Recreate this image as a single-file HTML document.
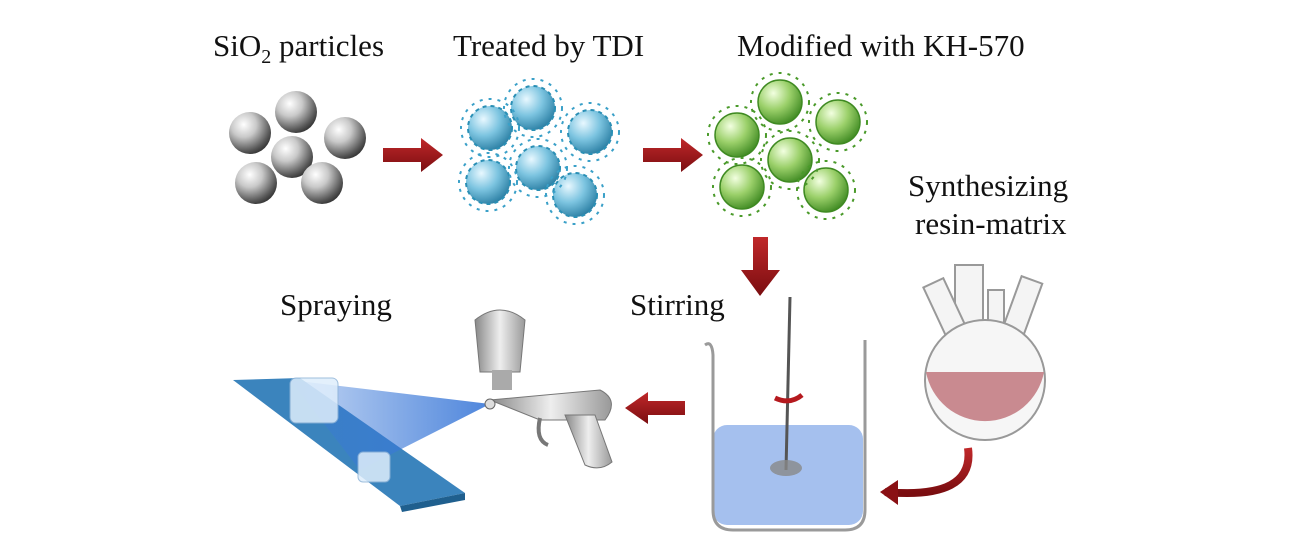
<!DOCTYPE html>
<html><head><meta charset="utf-8"><style>
html,body{margin:0;padding:0;background:#fff;}
svg{display:block;}
text{font-family:"Liberation Serif",serif;font-size:31px;fill:#111;}
</style></head><body>
<svg width="1291" height="556" viewBox="0 0 1291 556" xmlns="http://www.w3.org/2000/svg">
<defs>
<radialGradient id="silver" cx="35%" cy="30%" r="75%"><stop offset="0" stop-color="#fff"/><stop offset="0.4" stop-color="#c9c9c9"/><stop offset="0.85" stop-color="#555"/><stop offset="1" stop-color="#333"/></radialGradient>
<radialGradient id="blue" cx="35%" cy="30%" r="75%"><stop offset="0" stop-color="#e8f8ff"/><stop offset="0.5" stop-color="#7cc4e0"/><stop offset="1" stop-color="#2a7ea3"/></radialGradient>
<radialGradient id="green" cx="35%" cy="30%" r="75%"><stop offset="0" stop-color="#f2ffe0"/><stop offset="0.5" stop-color="#9bd06a"/><stop offset="1" stop-color="#3f8a22"/></radialGradient>
<linearGradient id="arrow" x1="0" y1="0" x2="0" y2="1"><stop offset="0" stop-color="#c0282a"/><stop offset="1" stop-color="#7a0d10"/></linearGradient>
<linearGradient id="cone" x1="1" y1="0" x2="0" y2="0"><stop offset="0" stop-color="#3a78d8" stop-opacity="0.9"/><stop offset="1" stop-color="#3a78d8" stop-opacity="0.3"/></linearGradient>
<linearGradient id="gun" x1="0" y1="0" x2="1" y2="0"><stop offset="0" stop-color="#888"/><stop offset="0.5" stop-color="#eee"/><stop offset="1" stop-color="#999"/></linearGradient>
<g id="arr"><polygon points="0,-7 38,-7 38,-17 60,0 38,17 38,7 0,7" fill="url(#arrow)"/></g>
</defs>

<text x="213" y="56">SiO<tspan font-size="20" dy="7">2</tspan><tspan dy="-7"> particles</tspan></text>
<text x="453" y="56">Treated by TDI</text>
<text x="737" y="56">Modified with KH-570</text>
<text x="908" y="196">Synthesizing</text>
<text x="915" y="234">resin-matrix</text>
<text x="630" y="315">Stirring</text>
<text x="280" y="315">Spraying</text>

<g fill="url(#silver)">
<circle cx="250" cy="133" r="21"/><circle cx="296" cy="112" r="21"/><circle cx="345" cy="138" r="21"/>
<circle cx="292" cy="157" r="21"/><circle cx="256" cy="183" r="21"/><circle cx="322" cy="183" r="21"/>
</g>
<use href="#arr" x="383" y="155"/>

<g fill="url(#blue)" stroke="#2a8fb5" stroke-width="2" stroke-dasharray="4 4">
<circle cx="490" cy="128" r="22"/><circle cx="533" cy="108" r="22"/><circle cx="590" cy="132" r="22"/>
<circle cx="538" cy="168" r="22"/><circle cx="488" cy="182" r="22"/><circle cx="575" cy="195" r="22"/>
</g>
<g fill="none" stroke="#3aa0c8" stroke-width="2" stroke-dasharray="3 6">
<circle cx="490" cy="128" r="29"/><circle cx="533" cy="108" r="29"/><circle cx="590" cy="132" r="29"/>
<circle cx="538" cy="168" r="29"/><circle cx="488" cy="182" r="29"/><circle cx="575" cy="195" r="29"/>
</g>
<use href="#arr" x="643" y="155"/>

<g fill="url(#green)" stroke="#3f8a22" stroke-width="1.5">
<circle cx="737" cy="135" r="22"/><circle cx="780" cy="102" r="22"/><circle cx="838" cy="122" r="22"/>
<circle cx="790" cy="160" r="22"/><circle cx="742" cy="187" r="22"/><circle cx="826" cy="190" r="22"/>
</g>
<g fill="none" stroke="#4a9a2a" stroke-width="2" stroke-dasharray="3 6">
<circle cx="737" cy="135" r="29"/><circle cx="780" cy="102" r="29"/><circle cx="838" cy="122" r="29"/>
<circle cx="790" cy="160" r="29"/><circle cx="742" cy="187" r="29"/><circle cx="826" cy="190" r="29"/>
</g>

<polygon points="753,237 768,237 768,270 780,270 760,296 741,270 753,270" fill="url(#arrow)"/>

<rect x="713" y="425" width="150" height="100" rx="14" fill="#8fb0ea" opacity="0.8"/>
<path d="M705,345 Q712,340 713,355 L713,510 Q713,530 733,530 L845,530 Q865,530 865,510 L865,340" fill="none" stroke="#9a9a9a" stroke-width="3"/>
<line x1="790" y1="297" x2="786" y2="470" stroke="#555" stroke-width="3"/>
<ellipse cx="786" cy="468" rx="16" ry="8" fill="#888" opacity="0.8"/>
<path d="M775,398 Q790,405 802,395" fill="none" stroke="#b5191e" stroke-width="5"/>

<rect x="955" y="265" width="28" height="90" fill="#f4f4f4" stroke="#999" stroke-width="2"/>
<rect x="935" y="280" width="22" height="60" fill="#f4f4f4" stroke="#999" stroke-width="2" transform="rotate(-25 946 310)"/>
<rect x="1010" y="278" width="22" height="65" fill="#f4f4f4" stroke="#999" stroke-width="2" transform="rotate(20 1021 310)"/>
<rect x="988" y="290" width="16" height="55" fill="#f4f4f4" stroke="#999" stroke-width="2"/>
<circle cx="985" cy="380" r="60" fill="#f6f6f6" stroke="#999" stroke-width="2"/>
<path d="M926,372 L1044,372 A60,60 0 0 1 926,372 Z" fill="#c98a90"/>
<path d="M968,448 Q975,500 885,492" fill="none" stroke="url(#arrow)" stroke-width="8"/>
<polygon points="880,492 898,480 898,505" fill="#8a1014"/>

<polygon points="685,401 648,401 648,392 625,408 648,424 648,415 685,415" fill="url(#arrow)"/>

<polygon points="233,380 300,378 465,493 400,506" fill="#3b84bd"/>
<polygon points="400,506 465,493 465,500 402,512" fill="#1f5f8e"/>
<polygon points="490,404 290,380 360,470" fill="url(#cone)"/>
<rect x="290" y="378" width="48" height="45" rx="6" fill="#dfeefc" opacity="0.85" stroke="#8fb4d8"/>
<rect x="358" y="452" width="32" height="30" rx="5" fill="#dfeefc" opacity="0.85" stroke="#8fb4d8"/>

<path d="M475,320 Q500,300 525,320 L520,372 L480,372 Z" fill="url(#gun)" stroke="#777"/>
<rect x="492" y="370" width="20" height="20" fill="#aaa"/>
<path d="M490,400 L600,390 Q620,400 605,420 L540,420 Z" fill="url(#gun)" stroke="#777"/>
<path d="M565,415 L595,415 L612,462 Q600,472 585,465 Z" fill="url(#gun)" stroke="#777"/>
<path d="M540,418 Q535,440 548,445" fill="none" stroke="#777" stroke-width="4"/>
<circle cx="490" cy="404" r="5" fill="#ddd" stroke="#666"/>
</svg>
</body></html>
